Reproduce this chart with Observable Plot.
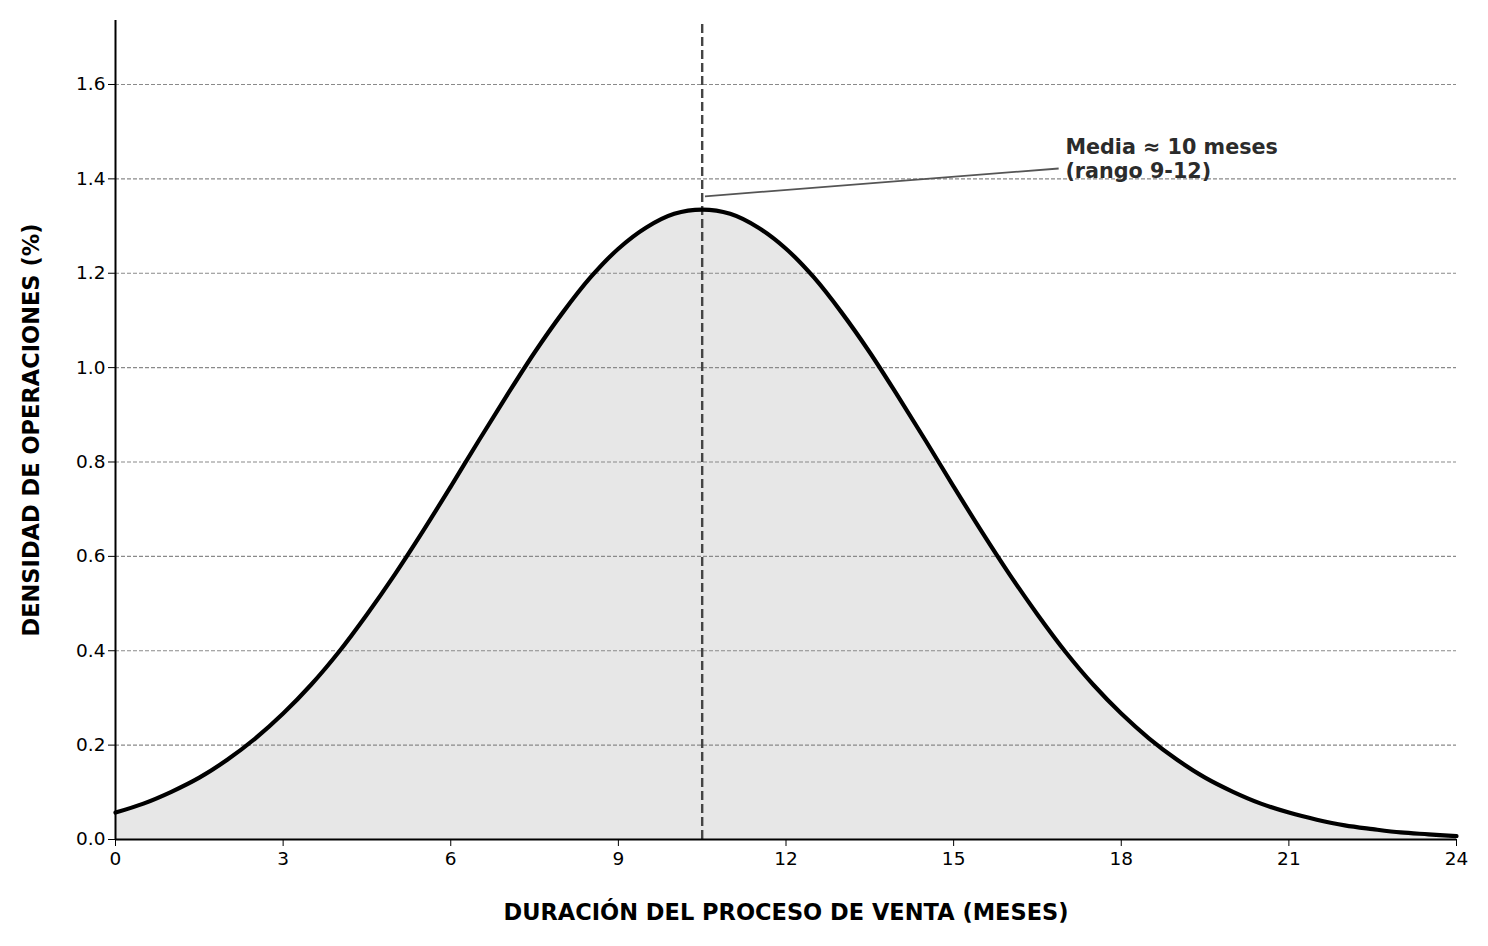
<!DOCTYPE html>
<html>
<head>
<meta charset="utf-8">
<script src="https://cdn.jsdelivr.net/npm/d3@7"></script>
<script src="https://cdn.jsdelivr.net/npm/@observablehq/plot@0.6"></script>
<style>
  html, body { margin: 0; padding: 0; background: #fff; }
  #chart svg { display: block; }
</style>
</head>
<body>
<div id="chart"></div>
<script>
// Months (x) and density (%)
const months = [0,0.5,1,1.5,2,2.5,3,3.5,4,4.5,5,5.5,6,6.5,7,7.5,8,8.5,9,9.5,10,10.5,11,11.5,12,12.5,13,13.5,14,14.5,15,15.5,16,16.5,17,17.5,18,18.5,19,19.5,20,20.5,21,21.5,22,22.5,23,23.5,24];
const density = [0.057,0.076,0.101,0.131,0.169,0.214,0.267,0.328,0.398,0.477,0.562,0.653,0.748,0.845,0.940,1.032,1.116,1.191,1.252,1.297,1.326,1.335,1.326,1.297,1.252,1.191,1.116,1.032,0.940,0.845,0.748,0.653,0.562,0.477,0.398,0.328,0.267,0.214,0.169,0.131,0.101,0.076,0.057,0.042,0.030,0.022,0.015,0.011,0.007];
const xTicks = [0,3,6,9,12,15,18,21,24];
const yTicks = [0,0.2,0.4,0.6,0.8,1.0,1.2,1.4,1.6];
const meanMonth = [10.5];
const annotationText = ["Media ≈ 10 meses\n(rango 9-12)"];
const annotationAt = [17, 1.443];
const leaderFrom = [10.55, 1.363];
const leaderTo = [16.88, 1.422];
const yTop = 1.7356;

const data = months.map((m, i) => ({m, d: density[i]}));

const chart = Plot.plot({
  width: 1488,
  height: 946,
  marginLeft: 115,
  marginRight: 32,
  marginTop: 20,
  marginBottom: 107,
  style: {fontFamily: "DejaVu Sans", fontSize: "18.5px", color: "#000", background: "#fff"},
  x: {domain: [0, 24]},
  y: {domain: [0, yTop]},
  marks: [
    Plot.areaY(data, {x: "m", y: "d", fill: "#e7e7e7", curve: "catmull-rom"}),
    Plot.ruleY(yTicks.filter(v => v > 0), {stroke: "#8a8a8a", strokeWidth: 1.1, strokeDasharray: "4,2"}),
    Plot.ruleX(meanMonth, {y1: 0, y2: 1.727, stroke: "#444", strokeWidth: 2.4, strokeDasharray: "9,4"}),
    Plot.line(data, {x: "m", y: "d", stroke: "#000", strokeWidth: 4.2, curve: "catmull-rom"}),
    Plot.link([0], {x1: () => leaderFrom[0], y1: () => leaderFrom[1], x2: () => leaderTo[0], y2: () => leaderTo[1], stroke: "#555", strokeWidth: 1.8}),
    Plot.text(annotationText, {x: () => annotationAt[0], y: () => annotationAt[1], text: d => d, textAnchor: "start", lineAnchor: "middle", lineHeight: 1.15, fontSize: 20.7, fontWeight: "bold", fill: "#2b2b2b"}),
    Plot.ruleX([0], {y1: 0, y2: yTop, stroke: "#000", strokeWidth: 2}),
    Plot.ruleY([0], {stroke: "#000", strokeWidth: 2}),
    Plot.axisX({ticks: xTicks, tickSize: 7, tickPadding: 5, fontSize: 18.5, label: "DURACIÓN DEL PROCESO DE VENTA (MESES)", labelAnchor: "center", labelArrow: "none", labelOffset: 80}),
    Plot.axisY({ticks: yTicks, tickSize: 7, tickPadding: 3, fontSize: 18.5, tickFormat: d3.format(".1f"), label: "DENSIDAD DE OPERACIONES (%)", labelAnchor: "center", labelArrow: "none", labelOffset: 92})
  ]
});
const svg = d3.select(chart);
svg.selectAll('g[aria-label$="tick label"] text').style("font-size", "18.5px").style("fill", "#000");
svg.selectAll('g[aria-label="x-axis label"] text, g[aria-label="y-axis label"] text')
  .style("font-weight", "bold").style("font-size", "22.5px").style("fill", "#000");
document.getElementById("chart").appendChild(chart);
</script>
</body>
</html>
